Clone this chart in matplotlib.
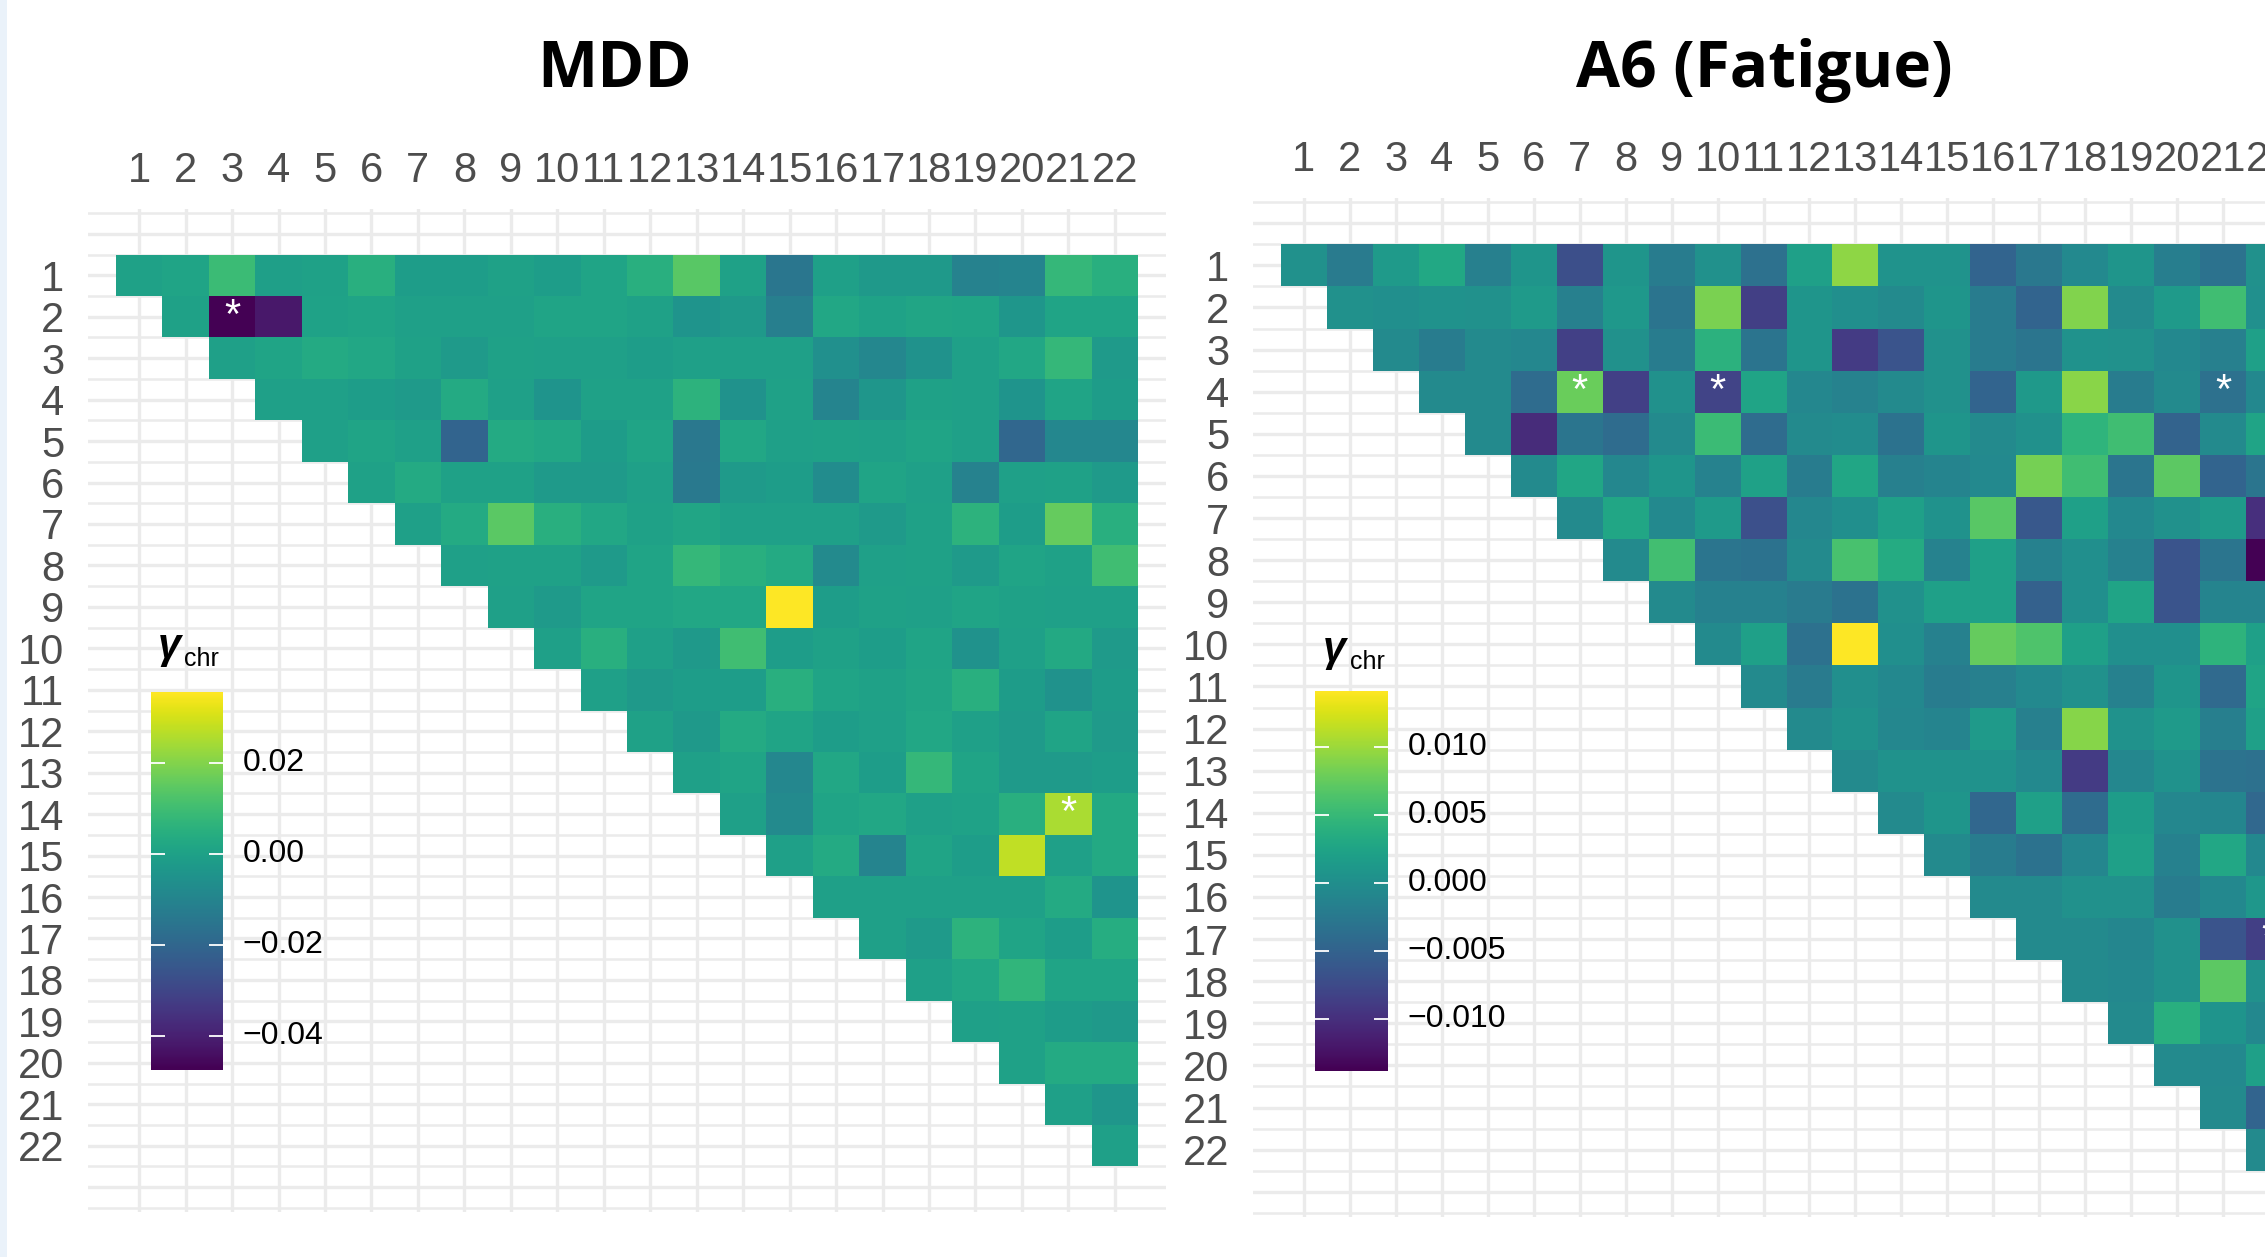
import numpy as np
import matplotlib
matplotlib.use("Agg")
import matplotlib.pyplot as plt
from matplotlib.colors import Normalize
from matplotlib.patches import Rectangle
from matplotlib.transforms import blended_transform_factory

W, H, DPI = 2265, 1257, 100

chromosomes = [str(i) for i in range(1, 23)]
titles = ["MDD", "A6 (Fatigue)"]

# upper triangle (row i holds columns i..22)
mdd_upper = [
    [0.0, 0.001, 0.009, -0.001, 0.0, 0.005, -0.0015, -0.0015, 0.0, -0.0015, 0.001, 0.005, 0.014, 0.0, -0.015, -0.0005, -0.003, -0.003, -0.011, -0.010, 0.008, 0.005],
    [0.0, -0.0475, -0.042, 0.0005, 0.001, -0.0005, -0.0005, -0.0005, 0.001, 0.001, 0.0, -0.0045, -0.003, -0.012, 0.002, 0.0005, 0.0015, 0.001, -0.004, 0.001, 0.001],
    [-0.0005, 0.001, 0.003, 0.002, 0.0, -0.0025, 0.0, -0.0005, -0.0005, -0.0015, -0.0005, -0.0005, -0.0005, -0.006, -0.009, -0.0055, -0.0005, 0.002, 0.008, -0.0025],
    [-0.0005, -0.0005, -0.0015, -0.0025, 0.003, -0.0005, -0.0045, 0.0, 0.0, 0.006, -0.005, 0.0, -0.010, -0.004, 0.0, -0.0005, -0.0045, 0.001, -0.002],
    [-0.0005, 0.001, -0.0005, -0.021, 0.003, 0.002, -0.002, 0.001, -0.0143, 0.002, -0.0005, 0.0, -0.0005, 0.001, -0.0005, -0.020, -0.009, -0.009],
    [0.0, 0.003, 0.0, 0.0, -0.0025, -0.0025, -0.0005, -0.014, -0.0025, -0.0015, -0.0075, 0.001, -0.0005, -0.0105, -0.0005, 0.0, -0.0025],
    [-0.0005, 0.003, 0.0145, 0.005, 0.002, 0.0, 0.0015, -0.0005, -0.0005, -0.0005, -0.0025, 0.0, 0.006, -0.0015, 0.016, 0.005],
    [-0.0005, 0.0, 0.0, -0.0025, 0.001, 0.008, 0.005, 0.003, -0.008, -0.0005, 0.0, -0.0025, 0.001, 0.0, 0.010],
    [-0.0005, -0.0025, 0.001, 0.001, 0.002, 0.002, 0.0356, -0.0015, 0.0, -0.0005, 0.001, 0.0, -0.0005, -0.0005],
    [-0.0005, 0.005, -0.0005, -0.003, 0.010, -0.0015, 0.0, -0.0015, 0.001, -0.005, -0.0005, 0.0025, -0.0025],
    [-0.0005, -0.003, -0.0015, -0.0015, 0.005, 0.001, 0.0, 0.0015, 0.005, -0.002, -0.005, -0.002],
    [0.0, -0.003, 0.003, 0.001, -0.0015, -0.0005, 0.002, -0.0005, -0.0025, 0.001, -0.0025],
    [-0.0005, 0.001, -0.009, 0.002, -0.0015, 0.008, 0.001, -0.0025, -0.0025, -0.0015],
    [-0.0005, -0.008, 0.001, 0.002, -0.0005, 0.0005, 0.005, 0.025, 0.0025],
    [-0.0005, 0.003, -0.010, 0.001, -0.0015, 0.0275, -0.0005, 0.0025],
    [-0.0005, -0.0005, -0.0005, -0.0005, -0.0005, 0.003, -0.0045],
    [-0.0005, -0.0025, 0.006, 0.001, -0.0015, 0.004],
    [-0.0005, 0.002, 0.007, 0.001, 0.001],
    [-0.0005, 0.0, -0.002, -0.003],
    [0.0, 0.003, 0.003],
    [-0.0005, -0.004],
    [-0.0005],
]

a6_upper = [
    [0.0002, -0.0023, 0.0013, 0.0029, -0.0018, 0.0007, -0.0071, 0.0008, -0.0022, 0.0002, -0.0035, 0.002, 0.0094, 0.0005, 0.0005, -0.0049, -0.0026, -0.0007, 0.0008, -0.002, -0.0033, 0.0002],
    [0.0002, 0.0, 0.0004, 0.0002, 0.0013, -0.0018, 0.0011, -0.0031, 0.0085, -0.0086, 0.0007, 0.0, -0.0006, 0.0008, -0.0022, -0.0049, 0.0088, -0.0006, 0.0013, 0.0055, 0.0001],
    [-0.0006, -0.0022, -0.0006, -0.0009, -0.0085, 0.0002, -0.0022, 0.004, -0.0031, 0.0008, -0.009, -0.0066, 0.0002, -0.0022, -0.003, 0.0003, 0.0002, -0.0008, -0.0018, 0.002],
    [-0.0006, -0.0006, -0.004, 0.0077, -0.0085, 0.0002, -0.0082, 0.0025, -0.0009, -0.0015, -0.0006, 0.0002, -0.0049, 0.0012, 0.0091, -0.0022, -0.0006, -0.0035, -0.0008],
    [-0.0006, -0.0104, -0.003, -0.004, -0.0006, 0.0052, -0.004, -0.0006, -0.0003, -0.0033, 0.0008, -0.0006, 0.0002, 0.0043, 0.0055, -0.005, -0.0006, 0.0025],
    [-0.0006, 0.0027, -0.0009, 0.0008, -0.0015, 0.0022, -0.0022, 0.0027, -0.0018, -0.0012, -0.0007, 0.0083, 0.0055, -0.003, 0.0071, -0.0049, -0.003],
    [-0.0006, 0.0027, -0.0007, 0.0013, -0.007, -0.0009, 0.0, 0.002, 0.0004, 0.0069, -0.0062, 0.002, -0.0008, 0.0002, 0.0013, -0.010],
    [-0.0006, 0.0056, -0.003, -0.0033, -0.0006, 0.006, 0.0033, -0.0015, 0.002, -0.0016, 0.0, -0.0016, -0.0066, -0.003, -0.0138],
    [-0.0006, -0.0017, -0.0017, -0.0023, -0.0033, 0.0002, 0.002, 0.002, -0.0052, 0.0, 0.0025, -0.0066, -0.0012, -0.0012],
    [-0.0006, 0.002, -0.0035, 0.0141, 0.0, -0.0017, 0.0075, 0.0063, 0.002, 0.0, 0.0, 0.0042, 0.002],
    [-0.0006, -0.0023, 0.0, -0.0008, -0.0022, -0.0018, -0.0007, 0.0002, -0.0016, 0.0008, -0.0043, 0.0025],
    [-0.0006, 0.0004, -0.0009, -0.0012, 0.0013, -0.0018, 0.009, 0.0003, 0.0013, -0.0019, 0.002],
    [-0.0006, 0.0004, 0.0004, 0.0003, -0.0007, -0.009, -0.0009, 0.0003, -0.0032, -0.0035],
    [-0.0006, 0.0008, -0.0046, 0.002, -0.004, 0.0015, -0.0009, -0.001, -0.0045],
    [-0.0006, -0.0022, -0.0033, -0.001, 0.002, -0.0017, 0.0028, -0.0008],
    [-0.0006, -0.0006, 0.0002, 0.0002, -0.0022, -0.0008, 0.001],
    [-0.0006, -0.0006, -0.001, 0.0002, -0.0066, -0.0086],
    [-0.0006, -0.0008, 0.0002, 0.0071, 0.0002],
    [-0.0006, 0.0038, 0.0006, -0.0008],
    [-0.0006, -0.0007, 0.002],
    [-0.0006, -0.0049],
    [-0.0006],
]

mdd_stars = [(2, 3), (14, 21)]
a6_stars = [(4, 7), (4, 10), (4, 21), (17, 22)]

mdd_cbar_ticks = [-0.04, -0.02, 0.00, 0.02]
mdd_cbar_labels = ["\u22120.04", "\u22120.02", "0.00", "0.02"]
a6_cbar_ticks = [-0.010, -0.005, 0.000, 0.005, 0.010]
a6_cbar_labels = ["\u22120.010", "\u22120.005", "0.000", "0.005", "0.010"]

GRID = "#EBEBEB"
TICKC = "#4D4D4D"

fig = plt.figure(figsize=(W / DPI, H / DPI), dpi=DPI)
fig.patch.set_facecolor("white")
fig.patches.append(Rectangle((0, 0), 7 / W, 1, transform=fig.transFigure,
                             facecolor="#EAF2FA", edgecolor="none"))


def px_axes(x0, y0, x1, y1):
    return fig.add_axes([x0 / W, 1 - y1 / H, (x1 - x0) / W, (y1 - y0) / H])


def to_matrix(upper):
    n = len(upper)
    M = np.full((n, n), np.nan)
    for i, row in enumerate(upper):
        M[i, i:i + len(row)] = row
    return np.ma.masked_invalid(M)


def draw_panel(box, upper, stars, cticks, clabels, cbox, title, title_x,
               gamma_x, chr_x, chr_base):
    ax = px_axes(*box)
    M = to_matrix(upper)
    vmin, vmax = float(M.min()), float(M.max())
    norm = Normalize(vmin, vmax)
    n = M.shape[0]
    edges = np.arange(0.5, n + 1.0, 1.0)
    ax.set_xlim(-0.1, n + 1.1)
    ax.set_ylim(n + 1.6, -0.6)
    for x in range(1, n + 1):
        ax.axvline(x, color=GRID, lw=2.4, zorder=0)
    for y in np.arange(-0.5, n + 2.0, 0.5):
        ax.axhline(y, color=GRID, lw=2.4 if float(y).is_integer() else 1.8, zorder=0)
    ax.pcolormesh(edges, edges, M, cmap="viridis", norm=norm, zorder=2,
                  edgecolors="none", antialiased=False)
    for r, c in stars:
        ax.text(c, r, "*", color="white", fontsize=30, ha="center", va="center",
                family="Liberation Sans", zorder=3)
    ax.xaxis.tick_top()
    ax.set_xticks(range(1, n + 1))
    ax.set_xticklabels(chromosomes, fontsize=30, color=TICKC, family="Liberation Sans")
    ax.set_yticks(range(1, n + 1))
    ax.set_yticklabels(chromosomes, fontsize=30, color=TICKC, family="Liberation Sans")
    ax.tick_params(axis="x", length=0, pad=13)
    ax.tick_params(axis="y", length=0, pad=17)
    for s in ax.spines.values():
        s.set_visible(False)
    ax.set_facecolor("white")

    # colour bar
    cax = px_axes(*cbox)
    grad = np.linspace(vmin, vmax, 300).reshape(-1, 1)
    cax.imshow(grad, aspect="auto", cmap="viridis", norm=norm, origin="lower",
               extent=[0, 1, vmin, vmax], interpolation="bilinear")
    cax.set_xlim(0, 1)
    cax.set_ylim(vmin, vmax)
    for t in cticks:
        cax.plot([0, 0.19], [t, t], color="white", lw=1.3, solid_capstyle="butt")
        cax.plot([0.81, 1], [t, t], color="white", lw=1.3, solid_capstyle="butt")
    cax.axis("off")
    trans = blended_transform_factory(cax.transAxes, cax.transData)
    for t, lab in zip(cticks, clabels):
        cax.text(1.27, t, lab, transform=trans, fontsize=23, color="black",
                 va="center", ha="left", family="Liberation Sans")

    fig.text(gamma_x / W, 1 - (chr_base - 8) / H, "\u03b3", fontsize=30,
             weight="bold", style="italic", family="Liberation Sans",
             ha="left", va="baseline", color="black")
    fig.text(chr_x / W, 1 - chr_base / H, "chr", fontsize=18,
             family="Liberation Sans", ha="left", va="baseline", color="black")

    fig.text(title_x / W, 1 - 87 / H, title, fontsize=46, weight="bold",
             family="Open Sans", ha="center", va="baseline", color="black")


draw_panel((88, 209, 1166, 1212), mdd_upper, mdd_stars, mdd_cbar_ticks,
           mdd_cbar_labels, (151, 692, 223, 1070), titles[0], 615, 158, 184, 666)
draw_panel((1253, 198, 2320, 1217), a6_upper, a6_stars, a6_cbar_ticks,
           a6_cbar_labels, (1315, 691, 1388, 1071), titles[1], 1764, 1323, 1350, 669)

fig.savefig("out.png", dpi=DPI)
